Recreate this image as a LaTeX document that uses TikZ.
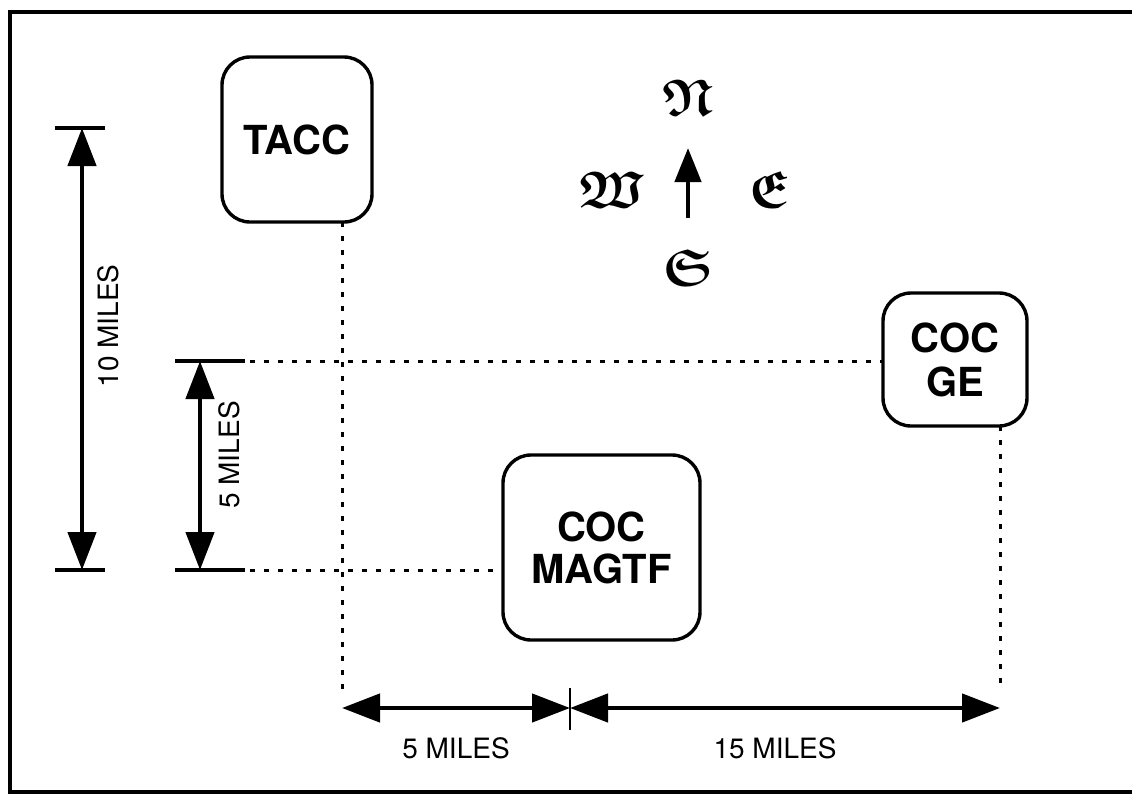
\documentclass[tikz,border=0pt]{standalone}
\usepackage{amssymb}
\usepackage{fontspec}
\setmainfont{TeX Gyre Heros}
\usetikzlibrary{arrows.meta}
\newcommand{\goth}[1]{{\boldmath$\mathfrak{#1}$}}
\tikzset{
  unitbox/.style={draw, line width=3.4pt, rounded corners=28pt, font=\fontsize{40}{42}\selectfont\bfseries, align=center, inner sep=0pt},
  dots/.style={line width=3pt, dash pattern=on 5pt off 9pt},
  dim/.style={line width=4.5pt, {Triangle[length=38pt,width=28pt]}-{Triangle[length=38pt,width=28pt]}},
  tick/.style={line width=3.5pt},
  lbl/.style={font=\fontsize{28}{30}\selectfont},
  gothic/.style={font=\fontsize{52}{52}\selectfont}
}
\begin{document}
\begin{tikzpicture}[x=1pt,y=-1pt]
\useasboundingbox (0,0) rectangle (1132,803);
% frame
\draw[line width=3.5pt] (1132,12) -- (10,12) -- (10,792) -- (1132,792);
% boxes
\node[unitbox, minimum width=150pt, minimum height=165pt] (tacc) at (297,139.5) {TACC};
\node[unitbox, minimum width=144pt, minimum height=133pt] (ge) at (955,359.5) {COC\\[2pt]GE};
\node[unitbox, minimum width=197pt, minimum height=185pt] (magtf) at (601.5,547.5) {COC\\MAGTF};
% reference coordinates
\coordinate (tb) at (342,222);
\coordinate (tbot) at (342,690);
\coordinate (gb) at (1000,426);
\coordinate (gbot) at (1000,690);
\coordinate (h5l) at (175,361);
\coordinate (h5r) at (883,361);
\coordinate (h0l) at (175,570);
\coordinate (h0r) at (503,570);
% dotted lines
\draw[dots] (tb) -- (tbot);
\draw[dots] (gb) -- (gbot);
\draw[dots] (250,361) -- (h5r);
\draw[dots] (250,570) -- (h0r);
% left dimensions
\coordinate (a10t) at (82,128);
\coordinate (a10b) at (82,570);
\draw[tick] (55,128) -- (105,128);
\draw[tick] (55,570) -- (105,570);
\draw[dim] (a10t) -- (a10b);
\node[lbl, rotate=90] (l10) at (108,326) {10 MILES};
\coordinate (a5t) at (200,361);
\coordinate (a5b) at (200,570);
\draw[tick] (h5l) -- (245,361);
\draw[tick] (h0l) -- (245,570);
\draw[dim] (a5t) -- (a5b);
\node[lbl, rotate=90] (l5) at (229,455) {5 MILES};
% bottom dimensions
\coordinate (b0) at (342,708);
\coordinate (b1) at (570,708);
\coordinate (b2) at (1000,708);
\draw[line width=2pt] (570,688) -- (570,730);
\draw[dim] (b0) -- (b1);
\draw[dim] (b1) -- (b2);
\node[lbl] (lb1) at (456,748) {5 MILES};
\node[lbl] (lb2) at (775,748) {15 MILES};
% compass
\node[gothic] (n) at (688,98) {\goth{N}};
\node[gothic] (s) at (688,268) {\goth{S}};
\node[gothic] (w) at (612,190) {\goth{W}};
\node[gothic] (e) at (770,190) {\goth{E}};
\coordinate (cs) at (688,218);
\coordinate (cn) at (688,148);
\draw[line width=4.5pt, -{Triangle[length=34pt,width=26pt]}] (cs) -- (cn);
\end{tikzpicture}
\end{document}
